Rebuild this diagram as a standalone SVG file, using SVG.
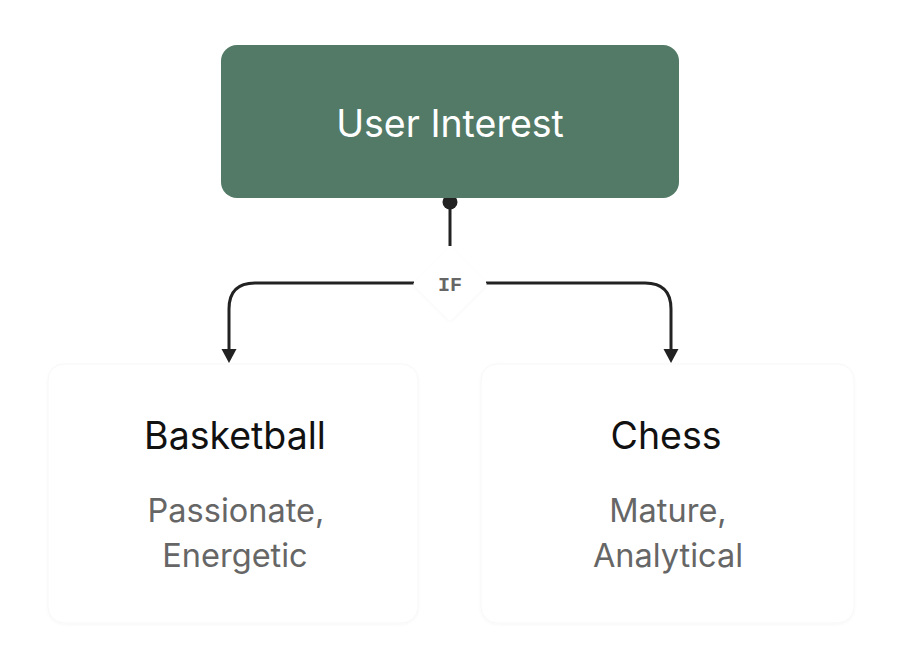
<svg xmlns="http://www.w3.org/2000/svg" width="900" height="666" viewBox="0 0 900 666">
<defs>
<style>
.t{font-family:Inter,"Noto Sans",sans-serif;text-anchor:middle}
.title{font-size:37.5px;fill:#ffffff}
.head{font-size:37.5px;fill:#111111}
.sub{font-size:32.5px;fill:#666666}
.if{font-family:"Liberation Mono","DejaVu Sans Mono",monospace;font-size:20px;font-weight:bold;fill:#666666;text-anchor:middle}
.conn{fill:none;stroke:#222222;stroke-width:3}
.card{fill:#ffffff;stroke:#f7f7f7;stroke-width:1}
</style>
<filter id="sh" x="-10%" y="-10%" width="120%" height="120%">
<feDropShadow dx="0" dy="1" stdDeviation="1.5" flood-color="#000" flood-opacity="0.035"/>
</filter>
</defs>
<rect width="900" height="666" fill="#ffffff"/>
<g id="connectors">
<line class="conn" x1="450" y1="202" x2="450" y2="246"/>
<circle cx="450" cy="202" r="7.5" fill="#222222"/>
<path class="conn" d="M414 283 H255 Q229 283 229 309 V350" />
<path d="M221.5 349 L236.5 349 L229 363 Z" fill="#222222"/>
<path class="conn" d="M486 283 H645 Q671 283 671 309 V350" />
<path d="M663.5 349 L678.5 349 L671 363 Z" fill="#222222"/>
</g>
<g id="node-user-interest">
<rect x="221" y="45" width="458" height="153" rx="16" fill="#527a66"/>
<text class="t title" x="450" y="137">User Interest</text>
</g>
<g id="node-if">
<polygon points="450,247 487,284 450,321 413,284" fill="#ffffff" filter="url(#sh)"/>
<text class="if" x="450" y="290.5">IF</text>
</g>
<g id="node-basketball">
<rect class="card" x="48" y="364" width="370" height="259" rx="16" filter="url(#sh)"/>
<text class="t head" x="235" y="449">Basketball</text>
<text class="t sub" x="236" y="522">Passionate,</text>
<text class="t sub" x="235" y="567">Energetic</text>
</g>
<g id="node-chess">
<rect class="card" x="481" y="364" width="373" height="259" rx="16" filter="url(#sh)"/>
<text class="t head" x="666" y="449">Chess</text>
<text class="t sub" x="668" y="522">Mature,</text>
<text class="t sub" x="668" y="567">Analytical</text>
</g>
</svg>
